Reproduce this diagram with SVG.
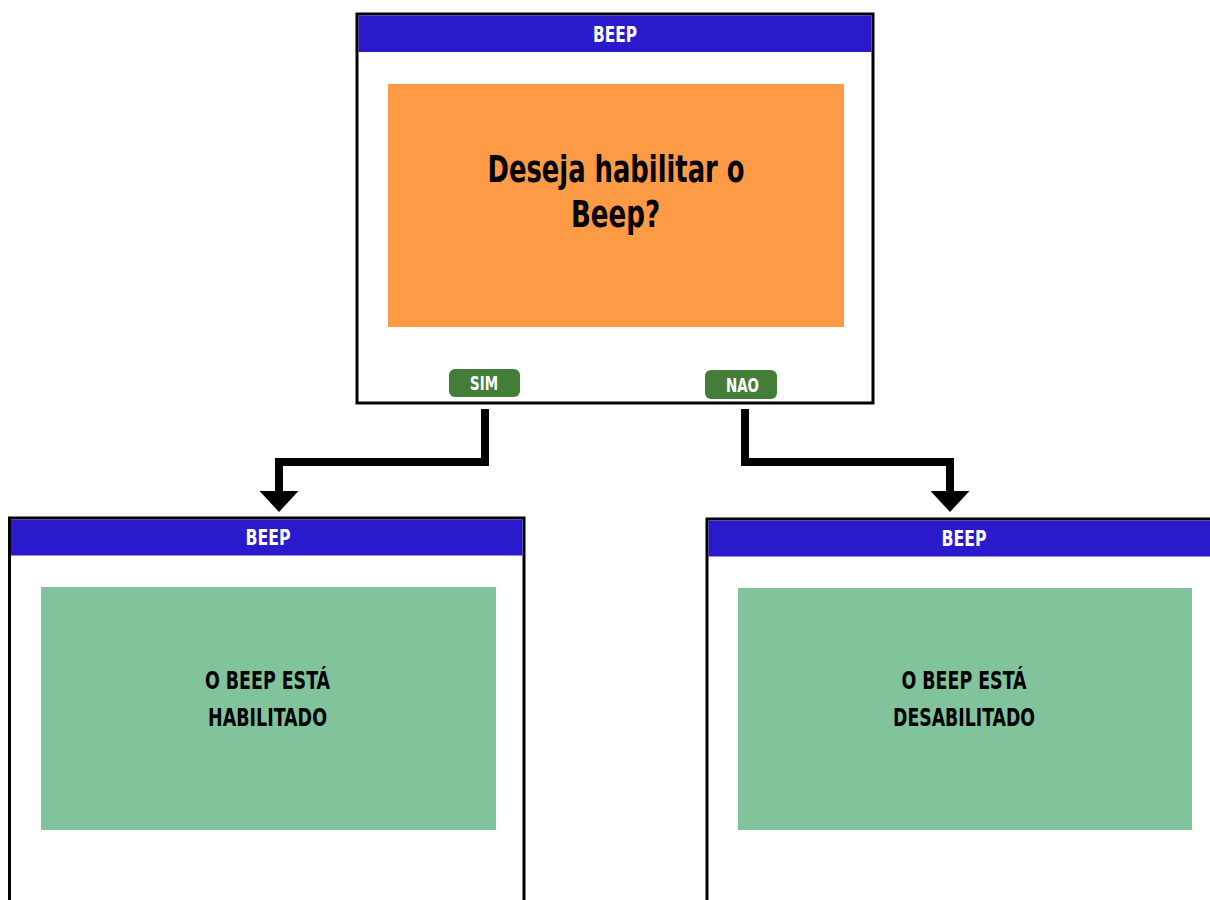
<svg xmlns="http://www.w3.org/2000/svg" width="1210" height="900" viewBox="0 0 1210 900">
<defs>
<style>
.frame{fill:#ffffff;stroke:#000000;stroke-width:3}
.hdr{fill:#2A1ACB}
.t{font-family:"Liberation Sans Narrow","DejaVu Sans Condensed","Liberation Sans",Arial,sans-serif;font-weight:bold;text-anchor:middle}
.ht{fill:#ffffff;font-size:21px}
.q{fill:#000000;font-size:38px}
.m{fill:#000000;font-size:24px}
.bt{fill:#ffffff;font-size:19px}
.btn{fill:#447D38}
.conn{fill:none;stroke:#000000;stroke-width:8;stroke-linejoin:miter}
</style>
<marker id="arr" markerUnits="userSpaceOnUse" markerWidth="21" markerHeight="39" viewBox="0 0 21 39" refX="0" refY="19.5" orient="auto">
<path d="M0,0 L21,19.5 L0,39 Z" fill="#000000"/>
</marker>
</defs>
<rect width="1210" height="900" fill="#ffffff"/>
<g id="connectors">
<path class="conn" d="M485 409 V462 H279 V491" marker-end="url(#arr)"/>
<path class="conn" d="M745 409 V462 H950 V491" marker-end="url(#arr)"/>
</g>
<g id="top">
<rect class="frame" x="357" y="14" width="516" height="389"/>
<rect class="hdr" x="358.5" y="15.5" width="513" height="36.5"/>
<text class="t ht" x="615" y="42" textLength="44" lengthAdjust="spacingAndGlyphs">BEEP</text>
<rect x="388" y="84" width="456" height="243" fill="#FC9A45"/>
<text class="t q" x="616" y="182" textLength="257" lengthAdjust="spacingAndGlyphs">Deseja habilitar o</text>
<text class="t q" x="615.5" y="227" textLength="89" lengthAdjust="spacingAndGlyphs">Beep?</text>
</g>
<g id="btn-sim">
<rect class="btn" x="449" y="369" width="71" height="28" rx="6"/>
<text class="t bt" x="484" y="390" textLength="28" lengthAdjust="spacingAndGlyphs">SIM</text>
</g>
<g id="btn-nao">
<rect class="btn" x="705" y="370" width="72" height="29" rx="6"/>
<text class="t bt" x="742.5" y="392" textLength="33" lengthAdjust="spacingAndGlyphs">NAO</text>
</g>
<g id="left">
<rect class="frame" x="9.5" y="518" width="514.5" height="410"/>
<rect class="hdr" x="11" y="519.5" width="511.5" height="36"/>
<text class="t ht" x="268" y="545" textLength="45" lengthAdjust="spacingAndGlyphs">BEEP</text>
<rect x="41" y="587" width="455" height="243" fill="#81C39B"/>
<text class="t m" x="267.5" y="689" textLength="125" lengthAdjust="spacingAndGlyphs">O BEEP ESTÁ</text>
<text class="t m" x="267.5" y="726" textLength="119" lengthAdjust="spacingAndGlyphs">HABILITADO</text>
</g>
<g id="right">
<rect class="frame" x="707" y="519" width="515" height="410"/>
<rect class="hdr" x="708.5" y="520.5" width="512" height="36"/>
<text class="t ht" x="964" y="546" textLength="45" lengthAdjust="spacingAndGlyphs">BEEP</text>
<rect x="738" y="588" width="454" height="242" fill="#81C39B"/>
<text class="t m" x="964" y="689" textLength="125" lengthAdjust="spacingAndGlyphs">O BEEP ESTÁ</text>
<text class="t m" x="964" y="726" textLength="142" lengthAdjust="spacingAndGlyphs">DESABILITADO</text>
</g>
</svg>
